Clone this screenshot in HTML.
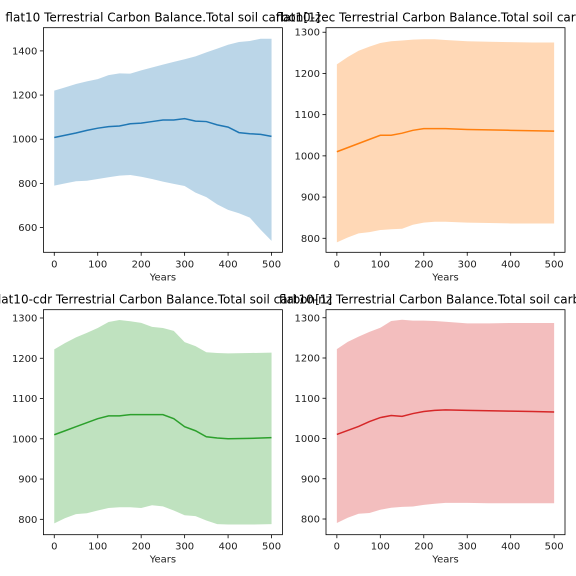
<!DOCTYPE html>
<html><head><meta charset="utf-8"><style>
body{margin:0;background:#fff}
svg{display:block;font-family:"DejaVu Sans","Liberation Sans",sans-serif}
</style></head><body>
<svg id="c" width="576" height="576" viewBox="0 0 576 576"></svg>
<script>
const yearsA = [0,25,50,75,100,125,150,175,200,225,250,275,300,325,350,375,400,425,450,475,500];
const meanA  = [1008,1018,1028,1040,1050,1057,1060,1070,1073,1080,1087,1087,1093,1082,1080,1065,1055,1030,1025,1022,1013];
const upperA = [1220,1235,1250,1262,1272,1290,1298,1297,1312,1325,1338,1350,1362,1375,1393,1410,1428,1440,1445,1455,1455];
const lowerA = [790,800,810,812,820,828,835,838,830,820,808,798,788,758,738,705,680,665,645,590,540];

const yearsB = [0,25,50,75,100,125,150,175,200,225,250,300,350,400,450,500];
const meanB  = [1010,1020,1030,1040,1050,1050,1055,1062,1066,1066,1066,1064,1063,1062,1061,1060];
const upperB = [1222,1240,1255,1265,1274,1278,1280,1282,1283,1283,1281,1278,1277,1276,1275,1275];
const lowerB = [790,802,812,815,820,822,823,833,838,840,840,838,837,836,836,836];

const yearsC = [0,25,50,75,100,125,150,175,200,225,250,275,300,325,350,375,400,450,500];
const meanC  = [1010,1020,1030,1040,1050,1057,1057,1060,1060,1060,1060,1050,1030,1020,1005,1002,1000,1001,1003];
const upperC = [1222,1238,1252,1263,1275,1290,1295,1292,1288,1278,1275,1268,1240,1230,1215,1213,1212,1213,1214];
const lowerC = [790,803,813,815,822,828,830,830,828,835,832,822,810,808,797,788,787,787,788];

const yearsD = [0,25,50,75,100,125,150,175,200,225,250,300,350,400,450,500];
const meanD  = [1010,1020,1030,1042,1052,1057,1055,1062,1067,1070,1071,1070,1069,1068,1067,1066];
const upperD = [1222,1240,1253,1265,1275,1292,1295,1293,1293,1292,1290,1286,1286,1287,1287,1287];
const lowerD = [790,803,813,815,823,828,830,831,835,838,840,840,839,839,839,839];

const xTicks = [0,100,200,300,400,500];
const yTicksA = [600,800,1000,1200,1400];
const yTicksB = [800,900,1000,1100,1200,1300];

const titles = ["flat10 Terrestrial Carbon Balance.Total soil carbon[1]",
  "flat10-zec Terrestrial Carbon Balance.Total soil carbon[1]",
  "flat10-cdr Terrestrial Carbon Balance.Total soil carbon[1]",
  "flat10-nz Terrestrial Carbon Balance.Total soil carbon[1]"];

const NS = "http://www.w3.org/2000/svg";
const svg = document.getElementById('c');
function mk(tag, attrs, parent){const e=document.createElementNS(NS,tag);for(const k in attrs)e.setAttribute(k,attrs[k]);(parent||svg).appendChild(e);return e;}

const panels = [
 {x0:43.4,x1:282.4,y0:27.7,y1:252.3,ymin:488,ymax:1505,years:yearsA,mean:meanA,up:upperA,lo:lowerA,yt:yTicksA,line:"#1f77b4",fill:"rgba(31,119,180,0.3)",name:"flat10"},
 {x0:326,x1:565,y0:27.7,y1:252.3,ymin:766,ymax:1311,years:yearsB,mean:meanB,up:upperB,lo:lowerB,yt:yTicksB,line:"#ff7f0e",fill:"rgba(255,127,14,0.3)",name:"flat10-zec"},
 {x0:43.4,x1:282.4,y0:309.7,y1:534.7,ymin:761.8,ymax:1320.6,years:yearsC,mean:meanC,up:upperC,lo:lowerC,yt:yTicksB,line:"#2ca02c",fill:"rgba(44,160,44,0.3)",name:"flat10-cdr"},
 {x0:326,x1:565,y0:309.7,y1:534.7,ymin:761,ymax:1320,years:yearsD,mean:meanD,up:upperD,lo:lowerD,yt:yTicksB,line:"#d62728",fill:"rgba(214,39,40,0.3)",name:"flat10-nz"}
];

panels.forEach((p,i)=>{
  const g = mk('g',{});
  
  
  const X = v => p.x0 + (v+25)/550*(p.x1-p.x0);
  const Y = v => p.y1 - (v-p.ymin)/(p.ymax-p.ymin)*(p.y1-p.y0);
  let d = p.years.map((yr,k)=>(k?'L':'M')+X(yr).toFixed(2)+','+Y(p.up[k]).toFixed(2)).join('');
  for(let k=p.years.length-1;k>=0;k--) d+='L'+X(p.years[k]).toFixed(2)+','+Y(p.lo[k]).toFixed(2);
  const band = mk('path',{d:d+'Z',fill:p.fill,stroke:'none'},g);
  
  
  const ln = mk('path',{d:p.years.map((yr,k)=>(k?'L':'M')+X(yr).toFixed(2)+','+Y(p.mean[k]).toFixed(2)).join(''),fill:'none',stroke:p.line,'stroke-width':1.5},g);
  
  
  const fr = mk('rect',{x:p.x0,y:p.y0,width:p.x1-p.x0,height:p.y1-p.y0,fill:'none',stroke:'#000','stroke-width':0.8},g);
  
  
  xTicks.forEach(t=>{
    mk('line',{x1:X(t),x2:X(t),y1:p.y1,y2:p.y1+3.5,stroke:'#000','stroke-width':0.8},g);
    const tx = mk('text',{x:X(t),y:p.y1+15,'text-anchor':'middle','font-size':10,fill:'#222'},g);
    tx.textContent=t;
    
    
  });
  p.yt.forEach(t=>{
    mk('line',{x1:p.x0-3.5,x2:p.x0,y1:Y(t),y2:Y(t),stroke:'#000','stroke-width':0.8},g);
    const tx = mk('text',{x:p.x0-6,y:Y(t)+3.5,'text-anchor':'end','font-size':10,fill:'#222'},g);
    tx.textContent=t;
    
    
  });
  const xl = mk('text',{x:(p.x0+p.x1)/2,y:p.y1+28,'text-anchor':'middle','font-size':10,fill:'#222'},g);
  xl.textContent='Years';
  
  
  const tt = mk('text',{x:(p.x0+p.x1)/2,y:p.y0-6,'text-anchor':'middle','font-size':12,fill:'#000'},g);
  tt.textContent=titles[i];
  
  
});
</script>
</body></html>
